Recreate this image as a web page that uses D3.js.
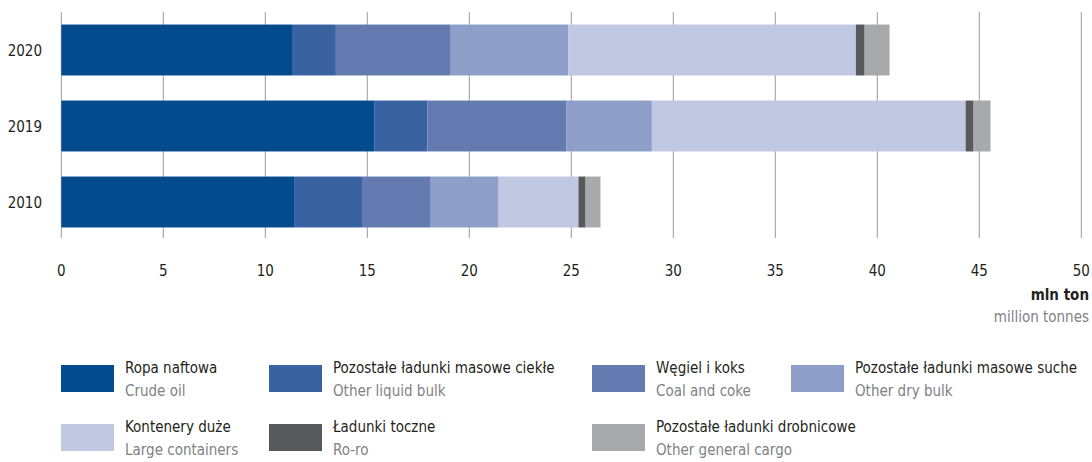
<!DOCTYPE HTML>
<html lang="pl">
<head>
<meta charset="utf-8">
<title>Przeładunki</title>
<style>
	body { margin: 0; background: #fff; }
	svg text { font-family: "DejaVu Sans Condensed", "Liberation Sans Narrow", "Roboto", sans-serif; font-stretch: condensed; }
</style>
<script src="https://d3js.org/d3.v7.min.js"></script>
</head>
<body>
<div id="chart"></div>
<script>
	// data
	var years = ["2020", "2019", "2010"];
	var seriesPl = ["Ropa naftowa", "Pozostałe ładunki masowe ciekłe", "Węgiel i koks", "Pozostałe ładunki masowe suche",
		"Kontenery duże", "Ładunki toczne", "Pozostałe ładunki drobnicowe"];
	var seriesEn = ["Crude oil", "Other liquid bulk", "Coal and coke", "Other dry bulk",
		"Large containers", "Ro-ro", "Other general cargo"];
	var colors = ["#034a8f", "#3862a0", "#647bb1", "#8d9fc8", "#c1c8e1", "#58595b", "#a8a9ad"];
	var values2020 = [11.35, 2.11, 5.63, 5.77, 14.09, 0.43, 1.22];
	var values2019 = [15.36, 2.59, 6.82, 4.18, 15.38, 0.39, 0.83];
	var values2010 = [11.41, 3.37, 3.33, 3.33, 3.91, 0.35, 0.73];
	var ticks = [0, 5, 10, 15, 20, 25, 30, 35, 40, 45, 50];

	var W = 1092, H = 462;
	var svg = d3.select("#chart").append("svg").attr("width", W).attr("height", H);

	var x = d3.scaleLinear().domain([0, 50]).range([61.3, 1081.3]);
	var y = d3.scaleBand().domain(years).range([12, 240]).paddingInner(0.33).paddingOuter(0.165);

	// table for stacking
	var rows = [values2020, values2019, values2010].map(function(v, i) {
		var r = { year: years[i] };
		seriesPl.forEach(function(s, j) { r[s] = v[j]; });
		return r;
	});
	var stacked = d3.stack().keys(seriesPl)(rows);

	// gridlines
	svg.append("g").selectAll("line").data(ticks).enter().append("line")
		.attr("x1", function(d) { return x(d); })
		.attr("x2", function(d) { return x(d); })
		.attr("y1", 12).attr("y2", 238)
		.attr("stroke", "#9a9a9a").attr("stroke-width", 1);

	// bars
	svg.append("g").selectAll("g").data(stacked).enter().append("g")
		.attr("fill", function(d, i) { return colors[i]; })
		.selectAll("rect").data(function(d) { return d; }).enter().append("rect")
		.attr("x", function(d) { return x(d[0]); })
		.attr("width", function(d) { return x(d[1]) - x(d[0]); })
		.attr("y", function(d) { return y(d.data.year); })
		.attr("height", y.bandwidth());

	// x tick labels
	svg.append("g").selectAll("text").data(ticks).enter().append("text")
		.attr("x", function(d) { return x(d); })
		.attr("y", 276)
		.attr("text-anchor", "middle")
		.attr("font-size", 15)
		.attr("fill", "#231f20")
		.text(function(d) { return d; });

	// year labels
	svg.append("g").selectAll("text").data(years).enter().append("text")
		.attr("x", 42)
		.attr("y", function(d) { return y(d) + y.bandwidth() / 2 + 6; })
		.attr("text-anchor", "end")
		.attr("font-size", 15)
		.attr("fill", "#231f20")
		.text(function(d) { return d; });

	// unit
	svg.append("text").attr("x", 1089).attr("y", 300).attr("text-anchor", "end")
		.attr("font-size", 15).attr("font-weight", "bold").attr("fill", "#231f20").text("mln ton");
	svg.append("text").attr("x", 1089).attr("y", 322).attr("text-anchor", "end")
		.attr("font-size", 15).attr("fill", "#808285").text("million tonnes");

	// legend
	var colX = [61, 269, 592, 791];
	var rowY = [365, 424];
	var legend = svg.append("g").selectAll("g").data(seriesPl).enter().append("g")
		.attr("transform", function(d, i) {
			return "translate(" + colX[i % 4] + "," + rowY[Math.floor(i / 4)] + ")";
		});
	legend.append("rect").attr("width", 53).attr("height", 27)
		.attr("fill", function(d, i) { return colors[i]; });
	legend.append("text").attr("x", 64).attr("y", 8).attr("font-size", 15).attr("fill", "#231f20")
		.text(function(d) { return d; });
	legend.append("text").attr("x", 64).attr("y", 31).attr("font-size", 15).attr("fill", "#808285")
		.text(function(d, i) { return seriesEn[i]; });
</script>
</body>
</html>
